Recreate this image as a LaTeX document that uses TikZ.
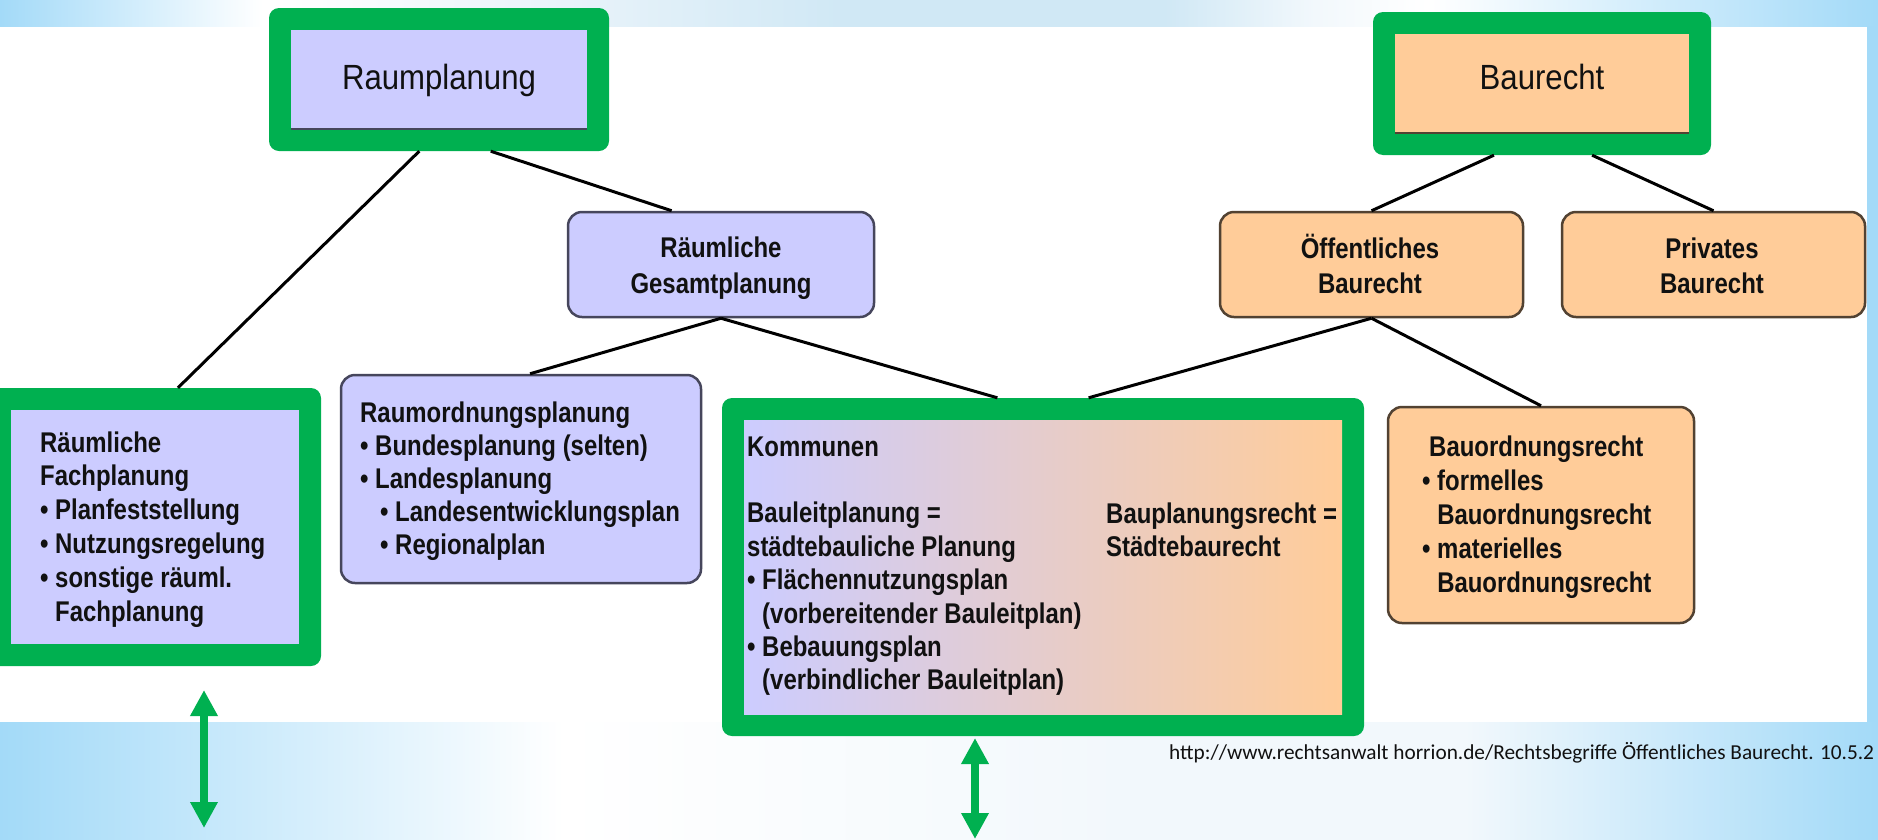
\documentclass[tikz,border=0pt]{standalone}
\usepackage{fontspec}
\setmainfont{Liberation Sans}
\newfontfamily\boxfont[FakeStretch=0.84]{Liberation Sans}
\newfontfamily\topfont[FakeStretch=0.89]{Liberation Sans}
\newfontfamily\capfont{Carlito}
\usetikzlibrary{arrows.meta,calc}
\definecolor{bgblue}{RGB}{163,218,248}
\definecolor{bgmid}{RGB}{208,232,245}
\definecolor{bgpale}{RGB}{242,248,252}
\definecolor{bgsoft}{RGB}{228,241,249}
\definecolor{hlgreen}{RGB}{0,176,80}
\definecolor{lav}{RGB}{204,204,255}
\definecolor{peach}{RGB}{255,204,153}
\definecolor{lavborder}{RGB}{70,70,92}
\definecolor{peachborder}{RGB}{82,66,50}
\definecolor{txt}{RGB}{17,17,17}
\pgfdeclarehorizontalshading{topband}{100bp}{color(0bp)=(bgblue); color(25bp)=(bgblue); color(32bp)=(white); color(41.5bp)=(bgsoft); color(47.5bp)=(bgmid); color(56bp)=(bgmid); color(60bp)=(bgpale); color(63bp)=(white); color(75bp)=(bgblue); color(100bp)=(bgblue)}
\pgfdeclarehorizontalshading{bottomband}{100bp}{color(0bp)=(bgblue); color(25bp)=(bgblue); color(40bp)=(white); color(55bp)=(bgpale); color(64bp)=(bgpale); color(75bp)=(bgblue); color(100bp)=(bgblue)}
\tikzset{
  hlframe/.style={rectangle, fill=hlgreen, draw=none, rounded corners=10pt, inner sep=0pt},
  innerbox/.style={rectangle, draw=none, inner sep=0pt},
  lavbox/.style={rectangle, fill=lav, draw=lavborder, line width=2.5pt, rounded corners=14pt, inner sep=0pt},
  peachbox/.style={rectangle, fill=peach, draw=peachborder, line width=2.5pt, rounded corners=14pt, inner sep=0pt},
  link/.style={draw=black, line width=3pt},
  greenarrow/.style={draw=hlgreen, line width=8pt, {Triangle[length=26pt,width=26pt]}-{Triangle[length=26pt,width=26pt]}},
  boxtext/.style={inner sep=0pt, text=txt, anchor=base west, font=\boxfont\bfseries\fontsize{28.5}{#1}\selectfont},
  boxtextc/.style={inner sep=0pt, text=txt, anchor=base, font=\boxfont\bfseries\fontsize{28.5}{#1}\selectfont},
  toptext/.style={inner sep=0pt, text=txt, anchor=base, font=\topfont\fontsize{35}{40}\selectfont},
  captext/.style={inner sep=0pt, text=txt, anchor=base west, font=\capfont\fontsize{21.3}{25}\selectfont}
}
\begin{document}
\begin{tikzpicture}[x=1pt,y=-1pt]
\useasboundingbox (0,0) rectangle (1878,839);
\clip (0,0) rectangle (1878,839);
% background
\fill[white] (0,0) rectangle (1878,839);
\shade[shading=topband] (0,0) rectangle (1878,26);
\shade[shading=bottomband] (0,722) rectangle (1878,839);
\fill[bgblue] (1867,26) rectangle (1878,722);

% highlighted boxes
\node[hlframe, minimum width=340pt, minimum height=143pt] (graum) at (439,79.5) {};
\node[innerbox, fill=lav, minimum width=296pt, minimum height=99pt] (raum) at (439,79.5) {};
\draw[lavborder, line width=2pt] (raum.south west) -- (raum.south east);
\node[toptext] (traum) at (439,89) {Raumplanung};

\node[hlframe, minimum width=338pt, minimum height=143pt] (gbau) at (1542,83.5) {};
\node[innerbox, fill=peach, minimum width=294pt, minimum height=99pt] (bau) at (1542,83.5) {};
\draw[peachborder, line width=2pt] (bau.south west) -- (bau.south east);
\node[toptext] (tbau) at (1542,89) {Baurecht};

\node[hlframe, minimum width=332pt, minimum height=278pt] (gfach) at (155,527) {};
\node[innerbox, fill=lav, minimum width=288pt, minimum height=234pt] (fach) at (155,527) {};
\node[boxtext={33.8}] (tfach) at (40,452) {\begin{tabular}[t]{@{}l@{}}Räumliche\\Fachplanung\\• Planfeststellung\\• Nutzungsregelung\\• sonstige räuml.\\\hphantom{•\ }Fachplanung\end{tabular}};

\node[hlframe, minimum width=642pt, minimum height=338pt] (gkomm) at (1043,567) {};
\node[innerbox, left color=lav, right color=peach, minimum width=598pt, minimum height=294pt] (komm) at (1043,567) {};
\node[boxtext={33.4}] (tkomm) at (747,456) {\begin{tabular}[t]{@{}l@{}}Kommunen\\ \\Bauleitplanung =\\städtebauliche Planung\\• Flächennutzungsplan\\\hphantom{•\ }(vorbereitender Bauleitplan)\\• Bebauungsplan\\\hphantom{•\ }(verbindlicher Bauleitplan)\end{tabular}};
\node[boxtext={33.4}] (tbpr) at (1106,523) {\begin{tabular}[t]{@{}l@{}}Bauplanungsrecht =\\Städtebaurecht\end{tabular}};

% plain boxes
\node[lavbox, minimum width=306pt, minimum height=105pt] (gesamt) at (721,264.5) {};
\node[boxtextc={36}] (tgesamt) at (721,257) {\begin{tabular}[t]{@{}c@{}}Räumliche\\Gesamtplanung\end{tabular}};

\node[peachbox, minimum width=303pt, minimum height=105pt] (oeff) at (1371.5,264.5) {};
\node[boxtextc={35}] (toeff) at (1370,258) {\begin{tabular}[t]{@{}c@{}}Öffentliches\\Baurecht\end{tabular}};

\node[peachbox, minimum width=303pt, minimum height=105pt] (priv) at (1713.5,264.5) {};
\node[boxtextc={35}] (tpriv) at (1712,258) {\begin{tabular}[t]{@{}c@{}}Privates\\Baurecht\end{tabular}};

\node[lavbox, minimum width=360pt, minimum height=208pt] (raumord) at (521,479) {};
\node[boxtext={33}] (traumord) at (360,422) {\begin{tabular}[t]{@{}l@{}}Raumordnungsplanung\\• Bundesplanung (selten)\\• Landesplanung\\\hspace*{20pt}• Landesentwicklungsplan\\\hspace*{20pt}• Regionalplan\end{tabular}};

\node[peachbox, minimum width=306pt, minimum height=216pt] (bauord) at (1541,515) {};
\node[boxtext={34}] (tbauord) at (1422,456) {\begin{tabular}[t]{@{}l@{}}\hspace*{7pt}Bauordnungsrecht\\• formelles\\\hphantom{•\ }Bauordnungsrecht\\• materielles\\\hphantom{•\ }Bauordnungsrecht\end{tabular}};

% connectors
\draw[link] ($(graum.south west)!0.442!(graum.south east)$) -- ($(gfach.north west)!0.569!(gfach.north east)$);
\draw[link] ($(graum.south west)!0.652!(graum.south east)$) -- ($(gesamt.north west)!0.34!(gesamt.north east)$);
\draw[link] (gesamt.south) -- ($(raumord.north west)!0.525!(raumord.north east)$);
\draw[link] (gesamt.south) -- ($(gkomm.north west)!0.429!(gkomm.north east)$);
\draw[link] (oeff.south) -- ($(gkomm.north west)!0.571!(gkomm.north east)$);
\draw[link] (oeff.south) -- (bauord.north);
\draw[link] ($(gbau.south west)!0.358!(gbau.south east)$) -- (oeff.north);
\draw[link] ($(gbau.south west)!0.648!(gbau.south east)$) -- (priv.north);

% green arrows
\coordinate (a1top) at (204,690);
\coordinate (a1bot) at (204,828);
\coordinate (a2top) at (975,738);
\coordinate (a2bot) at (975,839);
\draw[greenarrow] (a1top) -- (a1bot);
\draw[greenarrow] (a2top) -- (a2bot);

% caption
\node[captext] (cap) at (1169,759) {http://www.rechtsanwalt horrion.de/Rechtsbegriffe Öffentliches Baurecht. 10.5.2};
\end{tikzpicture}
\end{document}
